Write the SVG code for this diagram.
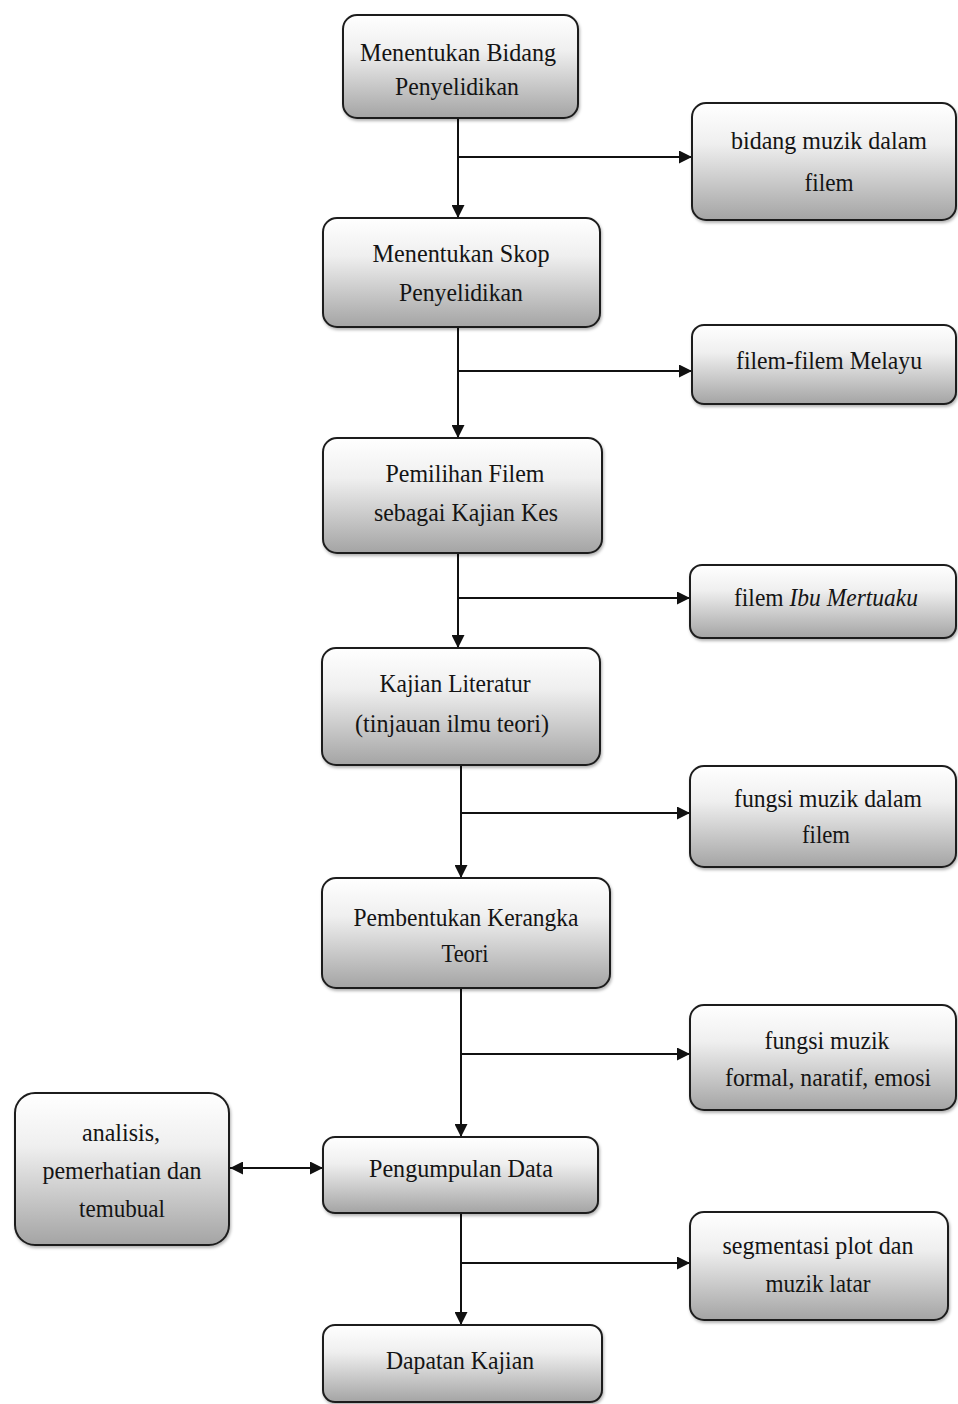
<svg xmlns="http://www.w3.org/2000/svg" width="958" height="1404" viewBox="0 0 958 1404">
  <style>
    .box { fill: url(#boxFill); stroke: #1e1e1e; stroke-width: 2; filter: url(#shade); }
    .lbl { font-family: "Liberation Serif", "Times New Roman", serif; font-size: 26px; fill: #141414; text-anchor: middle; }
    .it { font-style: italic; }
    .wire { stroke: #111; stroke-width: 2; fill: none; }
  </style>
  <defs>
    <linearGradient id="boxFill" x1="0" y1="0" x2="0" y2="1">
      <stop offset="0" stop-color="#ffffff"/>
      <stop offset="0.35" stop-color="#efefef"/>
      <stop offset="1" stop-color="#a4a4a4"/>
    </linearGradient>
    <filter id="shade" x="-5%" y="-5%" width="112%" height="120%">
      <feDropShadow dx="1" dy="2" stdDeviation="1.5" flood-color="#000" flood-opacity="0.3"/>
    </filter>
    <marker id="head" viewBox="0 0 10 10" refX="10" refY="5" markerWidth="6.5" markerHeight="6.5" orient="auto-start-reverse" markerUnits="strokeWidth">
      <path d="M0,0 L10,5 L0,10 z" fill="#111"/>
    </marker>
  </defs>
  <rect width="958" height="1404" fill="#ffffff"/>

  <!-- connectors -->
  <g id="connectors">
    <path class="wire" d="M458,118 V218" marker-end="url(#head)"/>
    <path class="wire" d="M458,157 H692" marker-end="url(#head)"/>
    <path class="wire" d="M458,327 V438" marker-end="url(#head)"/>
    <path class="wire" d="M458,371 H692" marker-end="url(#head)"/>
    <path class="wire" d="M458,553 V648" marker-end="url(#head)"/>
    <path class="wire" d="M458,598 H690" marker-end="url(#head)"/>
    <path class="wire" d="M461,765 V878" marker-end="url(#head)"/>
    <path class="wire" d="M461,813 H690" marker-end="url(#head)"/>
    <path class="wire" d="M461,988 V1137" marker-end="url(#head)"/>
    <path class="wire" d="M461,1054 H690" marker-end="url(#head)"/>
    <path class="wire" d="M230,1168 H323" marker-start="url(#head)" marker-end="url(#head)"/>
    <path class="wire" d="M461,1213 V1325" marker-end="url(#head)"/>
    <path class="wire" d="M461,1263 H690" marker-end="url(#head)"/>
  </g>

  <g id="bidang">
    <rect class="box" x="343" y="15" width="235" height="103" rx="14"/>
    <text class="lbl" x="458" y="61" textLength="196" lengthAdjust="spacingAndGlyphs">Menentukan  Bidang</text>
    <text class="lbl" x="457" y="95" textLength="124" lengthAdjust="spacingAndGlyphs">Penyelidikan</text>
  </g>

  <g id="muzik-filem">
    <rect class="box" x="692" y="103" width="264" height="117" rx="14"/>
    <text class="lbl" x="829" y="149" textLength="196" lengthAdjust="spacingAndGlyphs">bidang muzik dalam</text>
    <text class="lbl" x="829" y="191" textLength="49" lengthAdjust="spacingAndGlyphs">filem</text>
  </g>

  <g id="skop">
    <rect class="box" x="323" y="218" width="277" height="109" rx="14"/>
    <text class="lbl" x="461" y="262" textLength="177" lengthAdjust="spacingAndGlyphs">Menentukan  Skop</text>
    <text class="lbl" x="461" y="301" textLength="124" lengthAdjust="spacingAndGlyphs">Penyelidikan</text>
  </g>

  <g id="filem-melayu">
    <rect class="box" x="692" y="325" width="264" height="79" rx="12"/>
    <text class="lbl" x="829" y="369" textLength="186" lengthAdjust="spacingAndGlyphs">filem-filem Melayu</text>
  </g>

  <g id="pemilihan">
    <rect class="box" x="323" y="438" width="279" height="115" rx="14"/>
    <text class="lbl" x="465" y="482" textLength="159" lengthAdjust="spacingAndGlyphs">Pemilihan Filem</text>
    <text class="lbl" x="466" y="521" textLength="184" lengthAdjust="spacingAndGlyphs">sebagai  Kajian  Kes</text>
  </g>

  <g id="ibu-mertuaku">
    <rect class="box" x="690" y="565" width="266" height="73" rx="12"/>
    <text class="lbl" x="826" y="606" textLength="184" lengthAdjust="spacingAndGlyphs">filem <tspan class="it">Ibu Mertuaku</tspan></text>
  </g>

  <g id="literatur">
    <rect class="box" x="322" y="648" width="278" height="117" rx="14"/>
    <text class="lbl" x="455" y="692" textLength="151" lengthAdjust="spacingAndGlyphs">Kajian Literatur</text>
    <text class="lbl" x="452" y="732" textLength="194" lengthAdjust="spacingAndGlyphs">(tinjauan ilmu teori)</text>
  </g>

  <g id="fungsi-filem">
    <rect class="box" x="690" y="766" width="266" height="101" rx="14"/>
    <text class="lbl" x="828" y="807" textLength="188" lengthAdjust="spacingAndGlyphs">fungsi muzik dalam</text>
    <text class="lbl" x="826" y="843" textLength="48" lengthAdjust="spacingAndGlyphs">filem</text>
  </g>

  <g id="kerangka">
    <rect class="box" x="322" y="878" width="288" height="110" rx="14"/>
    <text class="lbl" x="466" y="926" textLength="225" lengthAdjust="spacingAndGlyphs">Pembentukan Kerangka</text>
    <text class="lbl" x="465" y="962" textLength="47" lengthAdjust="spacingAndGlyphs">Teori</text>
  </g>

  <g id="fungsi-jenis">
    <rect class="box" x="690" y="1005" width="266" height="105" rx="14"/>
    <text class="lbl" x="827" y="1049" textLength="125" lengthAdjust="spacingAndGlyphs">fungsi muzik</text>
    <text class="lbl" x="828" y="1086" textLength="206" lengthAdjust="spacingAndGlyphs">formal, naratif,  emosi</text>
  </g>

  <g id="kaedah">
    <rect class="box" x="15" y="1093" width="214" height="152" rx="20"/>
    <text class="lbl" x="121" y="1141" textLength="78" lengthAdjust="spacingAndGlyphs">analisis,</text>
    <text class="lbl" x="122" y="1179" textLength="159" lengthAdjust="spacingAndGlyphs">pemerhatian  dan</text>
    <text class="lbl" x="122" y="1217" textLength="86" lengthAdjust="spacingAndGlyphs">temubual</text>
  </g>

  <g id="pengumpulan">
    <rect class="box" x="323" y="1137" width="275" height="76" rx="12"/>
    <text class="lbl" x="461" y="1177" textLength="184" lengthAdjust="spacingAndGlyphs">Pengumpulan Data</text>
  </g>

  <g id="segmentasi">
    <rect class="box" x="690" y="1212" width="258" height="108" rx="14"/>
    <text class="lbl" x="818" y="1254" textLength="191" lengthAdjust="spacingAndGlyphs">segmentasi  plot dan</text>
    <text class="lbl" x="818" y="1292" textLength="105" lengthAdjust="spacingAndGlyphs">muzik latar</text>
  </g>

  <g id="dapatan">
    <rect class="box" x="323" y="1325" width="279" height="77" rx="12"/>
    <text class="lbl" x="460" y="1369" textLength="148" lengthAdjust="spacingAndGlyphs">Dapatan  Kajian</text>
  </g>
</svg>
